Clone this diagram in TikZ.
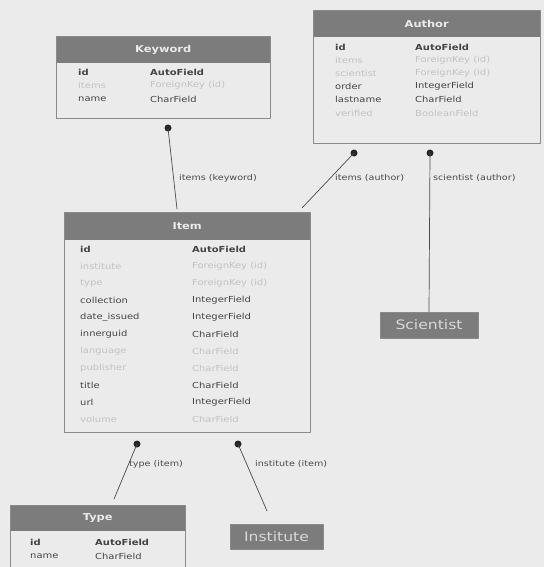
\documentclass[tikz,border=0pt]{standalone}
\usepackage{fontspec}
\setmainfont{DejaVu Sans}[FakeStretch=1.2]
\usetikzlibrary{positioning}

\definecolor{sfondo}{HTML}{EBEBEB}
\definecolor{testata}{HTML}{7C7C7C}
\definecolor{bordo}{HTML}{8A8A8A}
\definecolor{testo}{HTML}{444444}
\definecolor{sbiadito}{HTML}{C2C2C2}
\definecolor{linea}{HTML}{4A4A4A}

\tikzset{
  tabella/.style={draw=bordo, line width=0.8pt, anchor=north west, inner sep=0pt},
  titolo/.style={fill=testata, text=white!92!black, font=\fontsize{9.5}{10}\selectfont\bfseries,
    anchor=north west, inner sep=0pt},
  campo/.style={anchor=west, text=testo, font=\fontsize{8.3}{9}\selectfont, inner sep=0pt},
  rel/.style={campo, text=sbiadito},
  chiave/.style={campo, font=\fontsize{8.3}{9}\selectfont\bfseries},
  etichetta/.style={anchor=west, text=linea, font=\fontsize{8}{9}\selectfont, inner sep=1pt},
  modello/.style={fill=testata, draw=bordo, text=white!85!black,
    font=\fontsize{13}{14}\selectfont, inner sep=0pt},
  pallino/.style={circle, fill=black!85, inner sep=0pt, minimum size=7pt},
  collega/.style={draw=linea, line width=0.7pt}
}

\begin{document}
\begin{tikzpicture}[x=1pt, y=-1pt, line cap=round, line join=round]

% sfondo
\fill[sfondo] (0,0) rectangle (544,567);
\useasboundingbox (0,0) rectangle (544,567);

% tabella Keyword
\node[titolo, minimum width=214pt, minimum height=27pt] (keyword-t) at (56,36) {Keyword};
\node[tabella, minimum width=214pt, minimum height=82pt] (keyword) at (56,36) {};
\foreach \y/\n/\t/\s in {72/id/AutoField/chiave, 85/items/ForeignKey (id)/rel, 99/name/CharField/campo} {
  \node[\s] (keyword-n\y) at (78,\y) {\n};
  \node[\s] (keyword-f\y) at (150,\y) {\t};
}

% tabella Author
\node[titolo, minimum width=227pt, minimum height=27pt] (author-t) at (313,10) {Author};
\node[tabella, minimum width=227pt, minimum height=133pt] (author) at (313,10) {};
\foreach \y/\n/\t/\s in {47/id/AutoField/chiave, 60/items/ForeignKey (id)/rel,
    73/scientist/ForeignKey (id)/rel, 86/order/IntegerField/campo,
    99/lastname/CharField/campo, 113/verified/BooleanField/rel} {
  \node[\s] (author-n\y) at (335,\y) {\n};
  \node[\s] (author-f\y) at (415,\y) {\t};
}

% tabella Item
\node[titolo, minimum width=246pt, minimum height=28pt] (item-t) at (64,212) {Item};
\node[tabella, minimum width=246pt, minimum height=220pt] (item) at (64,212) {};
\foreach \y/\n/\t/\s in {249/id/AutoField/chiave, 266/institute/ForeignKey (id)/rel,
    283/type/ForeignKey (id)/rel, 300/collection/IntegerField/campo,
    317/date\_issued/IntegerField/campo, 334/innerguid/CharField/campo,
    351/language/CharField/rel, 368/publisher/CharField/rel,
    385/title/CharField/campo, 402/url/IntegerField/campo, 419/volume/CharField/rel} {
  \node[\s] (item-n\y) at (80,\y) {\n};
  \node[\s] (item-f\y) at (192,\y) {\t};
}

% tabella Type
\node[titolo, minimum width=175pt, minimum height=26pt] (type-t) at (10,505) {Type};
\node[tabella, minimum width=175pt, minimum height=80pt] (type) at (10,505) {};
\foreach \y/\n/\t/\s in {542/id/AutoField/chiave, 556/name/CharField/campo} {
  \node[\s] (type-n\y) at (30,\y) {\n};
  \node[\s] (type-f\y) at (95,\y) {\t};
}

% modelli esterni
\node[modello, minimum width=98pt, minimum height=26pt] (scientist) at (429,325) {Scientist};
\node[modello, minimum width=93pt, minimum height=25pt] (institute) at (276.5,536.5) {Institute};

% punti di relazione
\node[pallino] (kw-p) at (168,128) {};
\node[pallino] (au-p1) at (354,153) {};
\node[pallino] (au-p2) at (430,153) {};
\node[pallino] (it-p1) at (137,444) {};
\node[pallino] (it-p2) at (238,444) {};

\coordinate (item-kw) at (177,209);
\coordinate (item-au) at (302,208);
\coordinate (type-it) at (114,499);
\coordinate (inst-it) at (267,511);

% collegamenti
\draw[collega] (kw-p.center) -- (item-kw);
\draw[collega] (au-p1.center) -- (item-au);
\draw[collega] (au-p2.center) -- (scientist.north);
\draw[collega] (it-p1.center) -- (type-it);
\draw[collega] (it-p2.center) -- (inst-it);

% etichette
\node[etichetta] (lab-kw) at (178,178) {items (keyword)};
\node[etichetta] (lab-au) at (334,178) {items (author)};
\node[etichetta] (lab-sc) at (432,178) {scientist (author)};
\node[etichetta] (lab-ty) at (128,464) {type (item)};
\node[etichetta] (lab-in) at (254,464) {institute (item)};

\end{tikzpicture}
\end{document}
